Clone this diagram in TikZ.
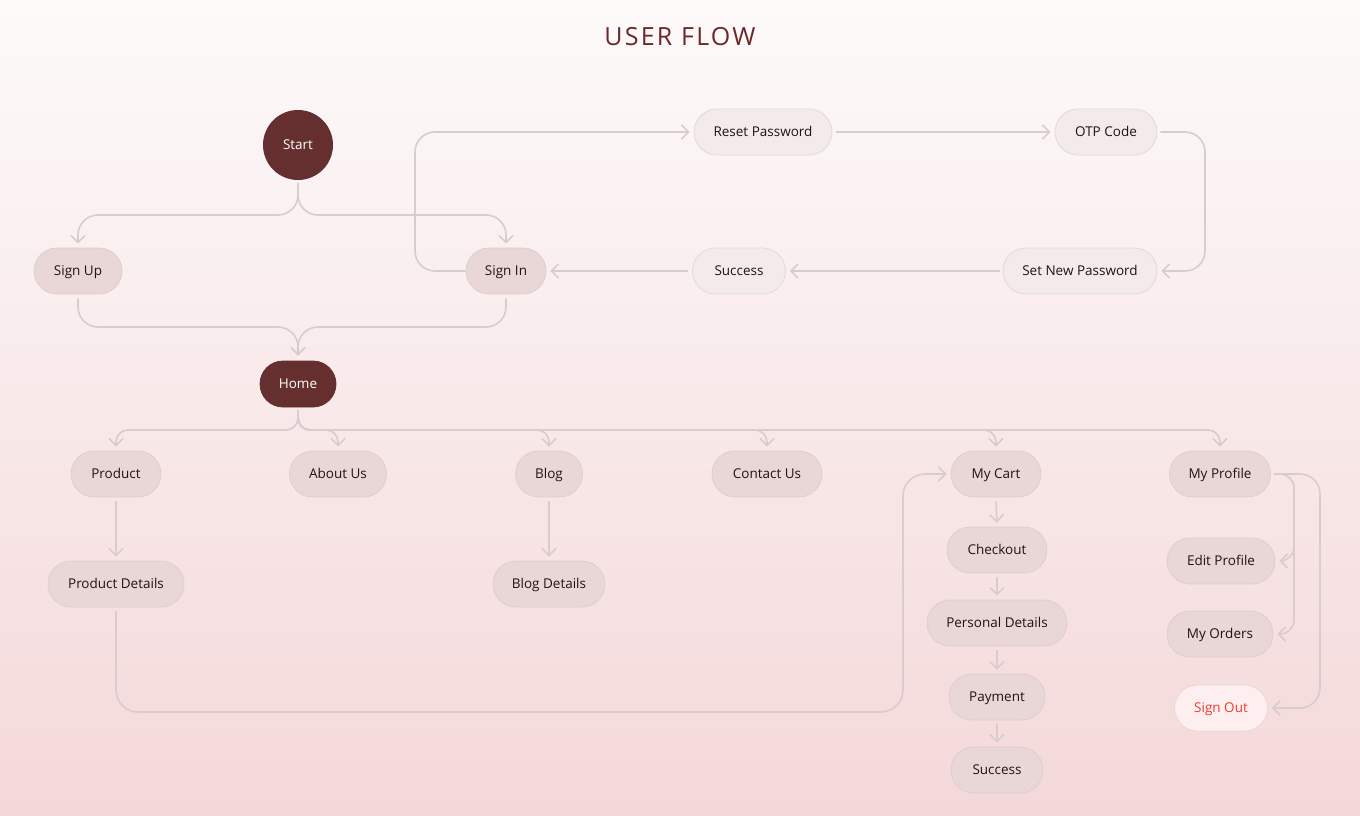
\documentclass[tikz,border=0pt]{standalone}
\usepackage{fontspec}
\setmainfont{Open Sans}
\usetikzlibrary{arrows.meta}
\definecolor{bgtop}{HTML}{FDFAFA}
\definecolor{bgbot}{HTML}{F4D8D9}
\definecolor{darkfill}{HTML}{662F2F}
\definecolor{conncol}{HTML}{D8CCCC}
\definecolor{pillA}{HTML}{F3EAEA}
\definecolor{pillAline}{HTML}{E4D9D9}
\definecolor{pillB}{HTML}{E9D7D7}
\definecolor{pillBline}{HTML}{E0CDCD}
\definecolor{txtcol}{HTML}{221313}
\definecolor{outfill}{HTML}{FDEFEF}
\definecolor{outline}{HTML}{F0D4D4}
\definecolor{signred}{HTML}{EE3B30}
\definecolor{titlecol}{HTML}{6A2828}
\tikzset{
  pill/.style={rectangle, rounded corners=23pt, minimum height=46pt, inner sep=0pt,
    text height=10pt, text depth=0.5pt,
    font=\fontsize{13.5}{16}\selectfont, text=txtcol, line width=0.8pt},
  pillA/.style={pill, fill=pillA, draw=pillAline},
  pillB/.style={pill, fill=pillB, draw=pillBline},
  darkpill/.style={pill, fill=darkfill, draw=darkfill, text=white},
  outpill/.style={pill, fill=outfill, draw=outline, text=signred},
  conn/.style={draw=conncol, line width=1.6pt, -{Straight Barb[length=7pt,width=14pt]}},
}
\begin{document}
\begin{tikzpicture}[x=1pt,y=-1pt]
\useasboundingbox (0,0) rectangle (1360,816);
\shade[top color=bgtop, bottom color=bgbot] (0,0) rectangle (1360,816);
\node[font=\fontsize{25}{30}\selectfont\addfontfeatures{LetterSpace=9}, text=titlecol] (title) at (680,37) {USER FLOW};

% nodes
\node[circle, fill=darkfill, minimum size=70pt, inner sep=0pt, text height=10pt, text depth=0.5pt, text=white, font=\fontsize{13.5}{16}\selectfont] (start) at (298,145) {Start};
\node[pillB, minimum width=88pt] (signup) at (78,271) {Sign Up};
\node[pillB, minimum width=80pt] (signin) at (506,271) {Sign In};
\node[pillA, minimum width=138pt] (reset) at (763,132) {Reset Password};
\node[pillA, minimum width=102pt] (otp) at (1106,132) {OTP Code};
\node[pillA, minimum width=93pt] (succ1) at (739,271) {Success};
\node[pillA, minimum width=154pt] (setnew) at (1080,271) {Set New Password};
\node[darkpill, minimum width=76pt] (home) at (298,384) {Home};
\node[pillB, minimum width=90pt] (product) at (116,474) {Product};
\node[pillB, minimum width=97pt] (about) at (338,474) {About Us};
\node[pillB, minimum width=67pt] (blog) at (549,474) {Blog};
\node[pillB, minimum width=110pt] (contact) at (767,474) {Contact Us};
\node[pillB, minimum width=90pt] (cart) at (996,474) {My Cart};
\node[pillB, minimum width=101pt] (profile) at (1220,474) {My Profile};
\node[pillB, minimum width=136pt] (pdetails) at (116,584) {Product Details};
\node[pillB, minimum width=112pt] (bdetails) at (549,584) {Blog Details};
\node[pillB, minimum width=100pt] (checkout) at (997,550) {Checkout};
\node[pillB, minimum width=140pt] (personal) at (997,623) {Personal Details};
\node[pillB, minimum width=96pt] (payment) at (997,697) {Payment};
\node[pillB, minimum width=92pt] (succ2) at (997,770) {Success};
\node[pillB, minimum width=108pt] (editp) at (1221,561) {Edit Profile};
\node[pillB, minimum width=106pt] (orders) at (1220,634) {My Orders};
\node[outpill, minimum width=93pt] (signout) at (1221,708) {Sign Out};

% connectors: start split
\draw[conn, rounded corners=20pt] ([yshift=-3pt]start.south) -- (298,215) -- (78,215) -- ([yshift=4pt]signup.north);
\draw[conn, rounded corners=20pt] ([yshift=-3pt]start.south) -- (298,215) -- (506,215) -- ([yshift=4pt]signin.north);
% merge to home
\draw[conn, rounded corners=20pt] ([yshift=-4pt]signup.south) -- (78,327) -- (298,327) -- ([yshift=5pt]home.north);
\draw[conn, rounded corners=20pt] ([yshift=-4pt]signin.south) -- (506,327) -- (298,327) -- ([yshift=5pt]home.north);
% password loop
\draw[conn, rounded corners=20pt] (signin.west) -- (415,271) -- (415,132) -- ([xshift=-4pt]reset.west);
\draw[conn] ([xshift=4pt]reset.east) -- ([xshift=-4pt]otp.west);
\draw[conn, rounded corners=20pt] ([xshift=3pt]otp.east) -- (1205,132) -- (1205,271) -- ([xshift=4pt]setnew.east);
\draw[conn] ([xshift=-3pt]setnew.west) -- ([xshift=4pt]succ1.east);
\draw[conn] ([xshift=-4pt]succ1.west) -- ([xshift=4pt]signin.east);
% home branches
\foreach \c in {product,about,blog,contact,cart,profile}{
  \draw[conn, rounded corners=12pt] ([yshift=-3pt]home.south) -- (298,430) -- (\c.north |- 0,430) -- ([yshift=4pt]\c.north);
}
\draw[conn] ([yshift=-4pt]product.south) -- ([yshift=4pt]pdetails.north);
\draw[conn] ([yshift=-4pt]blog.south) -- ([yshift=4pt]bdetails.north);
\draw[conn, rounded corners=22pt] ([yshift=-4pt]pdetails.south) -- (116,712) -- (903,712) -- (903,474) -- ([xshift=-4pt]cart.west);
% cart chain
\draw[conn] ([yshift=-4pt]cart.south) -- ([yshift=4pt]checkout.north);
\draw[conn] ([yshift=-4pt]checkout.south) -- ([yshift=4pt]personal.north);
\draw[conn] ([yshift=-4pt]personal.south) -- ([yshift=4pt]payment.north);
\draw[conn] ([yshift=-4pt]payment.south) -- ([yshift=4pt]succ2.north);
% profile
\draw[conn, rounded corners=14pt] ([xshift=3pt]profile.east) -- (1294,474) -- (1294,561) -- ([xshift=4pt]editp.east);
\draw[conn, rounded corners=14pt] ([xshift=3pt]profile.east) -- (1294,474) -- (1294,634) -- ([xshift=4pt]orders.east);
\draw[conn, rounded corners=20pt] ([xshift=3pt]profile.east) -- (1320,474) -- (1320,708) -- ([xshift=4pt]signout.east);
\end{tikzpicture}
\end{document}
